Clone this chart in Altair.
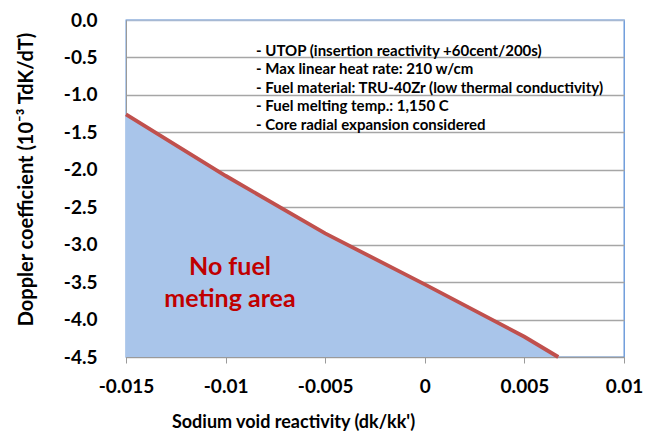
import altair as alt
import pandas as pd

# Boundary curve: Doppler coefficient vs sodium void reactivity
void_reactivity = [-0.015, -0.01, -0.005, 0.0, 0.005, 0.0067]
doppler_coef = [-1.26, -2.08, -2.85, -3.53, -4.23, -4.5]

x_ticks = [-0.015, -0.01, -0.005, 0.0, 0.005, 0.01]
y_ticks = [0.0, -0.5, -1.0, -1.5, -2.0, -2.5, -3.0, -3.5, -4.0, -4.5]

notes = [
    "- UTOP  (insertion reactivity +60cent/200s)",
    "- Max linear heat rate: 210 w/cm",
    "- Fuel material: TRU-40Zr (low thermal conductivity)",
    "- Fuel melting temp.: 1,150 C",
    "- Core radial expansion considered",
]
region_label = ["No fuel", "meting area"]

FONT = "Lato"

df = pd.DataFrame({"x": void_reactivity, "y": doppler_coef})

x_scale = alt.Scale(domain=[-0.015, 0.01], nice=False, zero=False)
y_scale = alt.Scale(domain=[-4.5, 0.0], nice=False, zero=False)

x_axis = alt.Axis(
    title="Sodium void reactivity (dk/kk')",
    values=x_ticks,
    labelExpr="toString(datum.value)",
    labelFlush=False,
    grid=False,
    domainColor="#9A9A9A",
    tickColor="#9A9A9A",
    tickSize=6,
    labelFont=FONT,
    labelFontSize=19,
    labelFontWeight="bold",
    labelColor="black",
    labelPadding=14,
    titleFont=FONT,
    titleFontSize=18,
    titleFontWeight="bold",
    titleColor="black",
    titleX=167,
    titleY=70,
    titleBaseline="alphabetic",
)

y_axis = alt.Axis(
    title="Doppler coefficient (10⁻³ TdK/dT)",
    values=y_ticks,
    labelExpr="replace(format(datum.value, '.1f'), '\u2212', '-')",
    labelFlush=False,
    grid=True,
    gridColor=alt.ExprRef(expr="datum.value == 0 ? '#A7B9D3' : '#A6A6A6'"),
    gridWidth=1.3,
    domainColor="#9A9A9A",
    ticks=False,
    labelFont=FONT,
    labelFontSize=19,
    labelFontWeight="bold",
    labelColor="black",
    labelPadding=29,
    titleFont=FONT,
    titleFontSize=20,
    titleFontWeight="bold",
    titleColor="black",
    titleAngle=270,
    titleX=-100,
    titleY=159,
    titleAlign="center",
    titleBaseline="middle",
)

x_enc = alt.X("x:Q", scale=x_scale, axis=x_axis)
y_enc = alt.Y("y:Q", scale=y_scale, axis=y_axis)

area = alt.Chart(df).mark_area(color="#A9C5EA", opacity=1).encode(
    x=x_enc,
    y=y_enc,
    y2=alt.datum(-4.5),
)

line = alt.Chart(df).mark_line(color="#C0504D", strokeWidth=3.8).encode(
    x=x_enc,
    y=y_enc,
)

# Condition notes, one line each, anchored in data coordinates
note_x0, note_y0, note_step = -0.00847, -0.41, -0.2475
notes_df = pd.DataFrame({
    "text": notes,
    "x": [note_x0] * len(notes),
    "y": [note_y0 + i * note_step for i in range(len(notes))],
})
notes_layer = alt.Chart(notes_df).mark_text(
    align="left", baseline="middle", font=FONT, fontSize=15, fontWeight="bold", color="black"
).encode(x=x_enc, y=y_enc, text="text:N")

region_df = pd.DataFrame({
    "text": region_label,
    "x": [-0.00978, -0.00978],
    "y": [-3.30, -3.72],
})
region_layer = alt.Chart(region_df).mark_text(
    align="center", baseline="middle", font=FONT, fontSize=25, fontWeight="bold", color="#C00000"
).encode(x=x_enc, y=y_enc, text="text:N")

chart = (
    alt.layer(area, line, notes_layer, region_layer)
    .properties(
        width=498,
        height=337,
        autosize=alt.AutoSizeParams(type="none"),
        padding={"left": 126, "top": 20, "right": 28, "bottom": 77},
        background="white",
    )
    .configure_view(stroke="#5B8FD6", strokeWidth=1.3)
)

chart.save("out.html", embed_options={"renderer": "svg", "actions": False})
